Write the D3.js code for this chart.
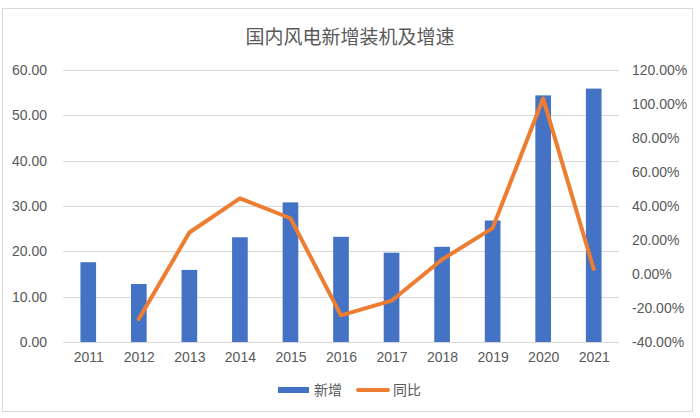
<!DOCTYPE html>
<html>
<head>
<meta charset="utf-8">
<script src="https://cdn.jsdelivr.net/npm/d3@7"></script>
<style>
  body { margin: 0; background: #fff; }
  text { font-family: "Liberation Sans", "Noto Sans CJK SC", sans-serif; fill: #595959; }
</style>
</head>
<body>
<div id="chart"></div>
<script>
// data
const years = ["2011", "2012", "2013", "2014", "2015", "2016", "2017", "2018", "2019", "2020", "2021"];
const added = [17.6, 12.8, 15.9, 23.1, 30.8, 23.2, 19.7, 21.0, 26.8, 54.4, 55.9];
const growth = [null, -26.5, 24.4, 44.5, 32.8, -24.3, -15.7, 8.5, 27.0, 103.2, 2.9];
const leftTicks = [0, 10, 20, 30, 40, 50, 60];
const rightTicks = [-40, -20, 0, 20, 40, 60, 80, 100, 120];

const W = 700, H = 418;
const margin = { top: 70, right: 81, bottom: 76, left: 63 };
const innerW = W - margin.left - margin.right;
const innerH = H - margin.top - margin.bottom;

const svg = d3.select("#chart").append("svg")
    .attr("width", W)
    .attr("height", H);

// outer frame
svg.append("rect")
    .attr("x", 2.5).attr("y", 8.5)
    .attr("width", 690).attr("height", 403)
    .attr("fill", "#fff")
    .attr("stroke", "#d9d9d9");

// title
svg.append("text")
    .attr("x", W / 2).attr("y", 44)
    .attr("text-anchor", "middle")
    .style("font-size", "19px")
    .style("font-family", "'Noto Sans CJK SC', sans-serif")
    .text("国内风电新增装机及增速");

const g = svg.append("g")
    .attr("transform", `translate(${margin.left},${margin.top})`);

//scales
const x = d3.scaleBand().domain(years).range([0, innerW]).paddingInner(0.69).paddingOuter(0.345);
const xc = d3.scalePoint().domain(years).range([0, innerW]).padding(0.5);
const y = d3.scaleLinear().domain([0, 60]).range([innerH, 0]);
const y2 = d3.scaleLinear().domain([-40, 120]).range([innerH, 0]);

//gridlines
g.append("g")
    .selectAll("line")
    .data(leftTicks)
    .join("line")
    .attr("x1", 0).attr("x2", innerW)
    .attr("y1", d => Math.round(y(d)) + 0.5)
    .attr("y2", d => Math.round(y(d)) + 0.5)
    .attr("stroke", "#d9d9d9")
    .attr("stroke-width", 1);

//left axis
const yAxis = d3.axisLeft(y).tickValues(leftTicks).tickFormat(d3.format(".2f")).tickSize(0).tickPadding(16);
g.append("g").call(yAxis)
    .call(s => s.select(".domain").remove())
    .selectAll("text")
    .style("font-size", "14px")
    .attr("fill", "#595959");

//right axis
const y2Axis = d3.axisRight(y2).tickValues(rightTicks)
    .tickFormat(d => d.toFixed(2) + "%").tickSize(0).tickPadding(13);
g.append("g").attr("transform", `translate(${innerW},0)`).call(y2Axis)
    .call(s => s.select(".domain").remove())
    .selectAll("text")
    .style("font-size", "14px")
    .attr("fill", "#595959");

//x axis
const xAxis = d3.axisBottom(xc).tickSize(0).tickPadding(10);
g.append("g").attr("transform", `translate(0,${innerH})`).call(xAxis)
    .call(s => s.select(".domain").remove())
    .selectAll("text")
    .style("font-size", "14px")
    .attr("fill", "#595959");

//bars
g.append("g")
    .selectAll("rect")
    .data(years)
    .join("rect")
    .attr("x", (d) => x(d))
    .attr("width", x.bandwidth())
    .attr("y", (d, i) => y(added[i]))
    .attr("height", (d, i) => innerH - y(added[i]))
    .attr("fill", "#4472c4");

// line
const pts = years.map((d, i) => ({ x: d, v: growth[i] })).filter(p => p.v !== null);
g.append("path")
    .datum(pts)
    .attr("d", d3.line().x(p => xc(p.x)).y(p => y2(p.v)))
    .attr("fill", "none")
    .attr("stroke", "#ed7d31")
    .attr("stroke-width", 4)
    .attr("stroke-linejoin", "round")
    .attr("stroke-linecap", "round");

// legend
const leg = svg.append("g").attr("transform", "translate(0,390)");
leg.append("rect")
    .attr("x", 278).attr("y", -3)
    .attr("width", 31).attr("height", 6)
    .attr("fill", "#4472c4");
leg.append("text")
    .attr("x", 314).attr("y", 5)
    .style("font-size", "14px")
    .style("font-family", "'Noto Sans CJK SC', sans-serif")
    .text("新增");
leg.append("line")
    .attr("x1", 358).attr("x2", 388)
    .attr("y1", 0).attr("y2", 0)
    .attr("stroke", "#ed7d31")
    .attr("stroke-width", 4)
    .attr("stroke-linecap", "round");
leg.append("text")
    .attr("x", 393).attr("y", 5)
    .style("font-size", "14px")
    .style("font-family", "'Noto Sans CJK SC', sans-serif")
    .text("同比");
</script>
</body>
</html>
